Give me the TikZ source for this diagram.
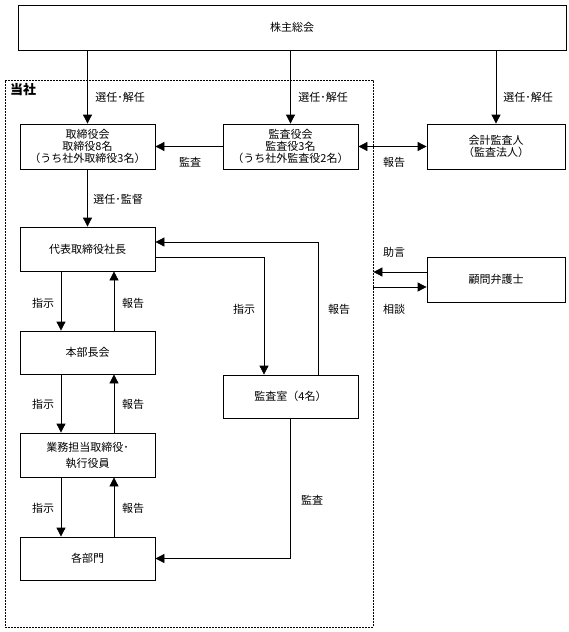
\documentclass[tikz,border=0pt]{standalone}
\usepackage{fontspec}
\setmainfont{Noto Sans CJK JP}
\usetikzlibrary{arrows.meta}
\begin{document}
\begin{tikzpicture}[x=1pt,y=-1pt,
  box/.style={draw, line width=0.8pt, inner sep=0pt, align=center, font=\fontsize{11}{12}\selectfont},
  bigbox/.style={box, minimum width=135pt, minimum height=44pt},
  lbl/.style={font=\fontsize{11}{12}\selectfont, inner sep=0pt},
  arr/.style={line width=0.8pt, -{Triangle[length=9pt,width=9pt]}},
  darr/.style={line width=0.8pt, {Triangle[length=9pt,width=9pt]}-{Triangle[length=9pt,width=9pt]}}]
\useasboundingbox (0,0) rectangle (568,632);
% frames
\node[draw, dash pattern=on 2pt off 1pt, line width=0.8pt, minimum width=368pt, minimum height=547pt, inner sep=0pt] (tosha) at (189,353.5) {};
\node[font=\fontsize{13}{14}\selectfont\bfseries, inner sep=0pt] (toshalbl) at (23,90) {当社};
% boxes
\node[box, minimum width=548pt, minimum height=45pt] (gm) at (292,27.5) {株主総会};
\node[bigbox, minimum height=45pt] (tori) at (87.5,146.5) {取締役会\\取締役8名\\（うち社外取締役3名）};
\node[bigbox, minimum height=45pt] (kyk) at (290.5,146.5) {監査役会\\監査役3名\\（うち社外監査役2名）};
\node[bigbox, minimum width=138pt, minimum height=45pt] (kaikei) at (496,146.5) {会計監査人\\（監査法人）};
\node[bigbox] (daihyo) at (87.5,249) {代表取締役社長};
\node[bigbox, minimum height=43pt] (honbu) at (87.5,352.5) {本部長会};
\node[box, minimum width=135pt, minimum height=44pt, font=\fontsize{11}{16}\selectfont] (gyomu) at (87.5,455) {業務担当取締役･\\執行役員};
\node[bigbox, minimum height=43pt] (kakubu) at (87.5,558.5) {各部門};
\node[bigbox, minimum height=43pt] (kshitsu) at (290.5,396.5) {監査室（4名）};
\node[bigbox, minimum width=138pt, minimum height=45pt] (komon) at (496,279.5) {顧問弁護士};
% helper coordinates
\coordinate (xl) at (61,0);
\coordinate (xr) at (114,0);
\coordinate (sx) at (264,0);
\coordinate (rx) at (318,0);
\coordinate (ya) at (0,257);
\coordinate (yb) at (0,242);
\coordinate (yc) at (0,272);
\coordinate (yd) at (0,287);
% connectors
\draw[arr] (tori.north |- gm.south) -- (tori.north);
\draw[arr] (kyk.north |- gm.south) -- (kyk.north);
\draw[arr] (kaikei.north |- gm.south) -- (kaikei.north);
\draw[arr] (kyk.west) -- (tori.east);
\draw[darr] (kyk.east) -- (kaikei.west);
\draw[arr] (tori.south) -- (daihyo.north);
\draw[arr] (xl |- daihyo.south) -- (xl |- honbu.north);
\draw[arr] (xr |- honbu.north) -- (xr |- daihyo.south);
\draw[arr] (xl |- honbu.south) -- (xl |- gyomu.north);
\draw[arr] (xr |- gyomu.north) -- (xr |- honbu.south);
\draw[arr] (xl |- gyomu.south) -- (xl |- kakubu.north);
\draw[arr] (xr |- kakubu.north) -- (xr |- gyomu.south);
\draw[arr] (daihyo.east |- ya) -| (sx |- kshitsu.north);
\draw[arr] (rx |- kshitsu.north) |- (daihyo.east |- yb);
\draw[arr] (kshitsu.south) |- (kakubu.east);
\draw[arr] (komon.west |- yc) -- (tosha.east |- yc);
\draw[arr] (tosha.east |- yd) -- (komon.west |- yd);
% labels
\node[lbl] (l1) at (120,97) {選任･解任};
\node[lbl] (l2) at (323,97) {選任･解任};
\node[lbl] (l3) at (528,97) {選任･解任};
\node[lbl] (l4) at (190,162) {監査};
\node[lbl] (l5) at (394,162) {報告};
\node[lbl] (l6) at (118,199) {選任･監督};
\node[lbl] (l7) at (43,303) {指示};
\node[lbl] (l8) at (133,303) {報告};
\node[lbl] (l9) at (43,404) {指示};
\node[lbl] (l10) at (133,404) {報告};
\node[lbl] (l11) at (43,508) {指示};
\node[lbl] (l12) at (133,508) {報告};
\node[lbl] (l13) at (244,309) {指示};
\node[lbl] (l14) at (339,309) {報告};
\node[lbl] (l15) at (312,500) {監査};
\node[lbl] (l16) at (394,252) {助言};
\node[lbl] (l17) at (394,309) {相談};
\end{tikzpicture}
\end{document}
